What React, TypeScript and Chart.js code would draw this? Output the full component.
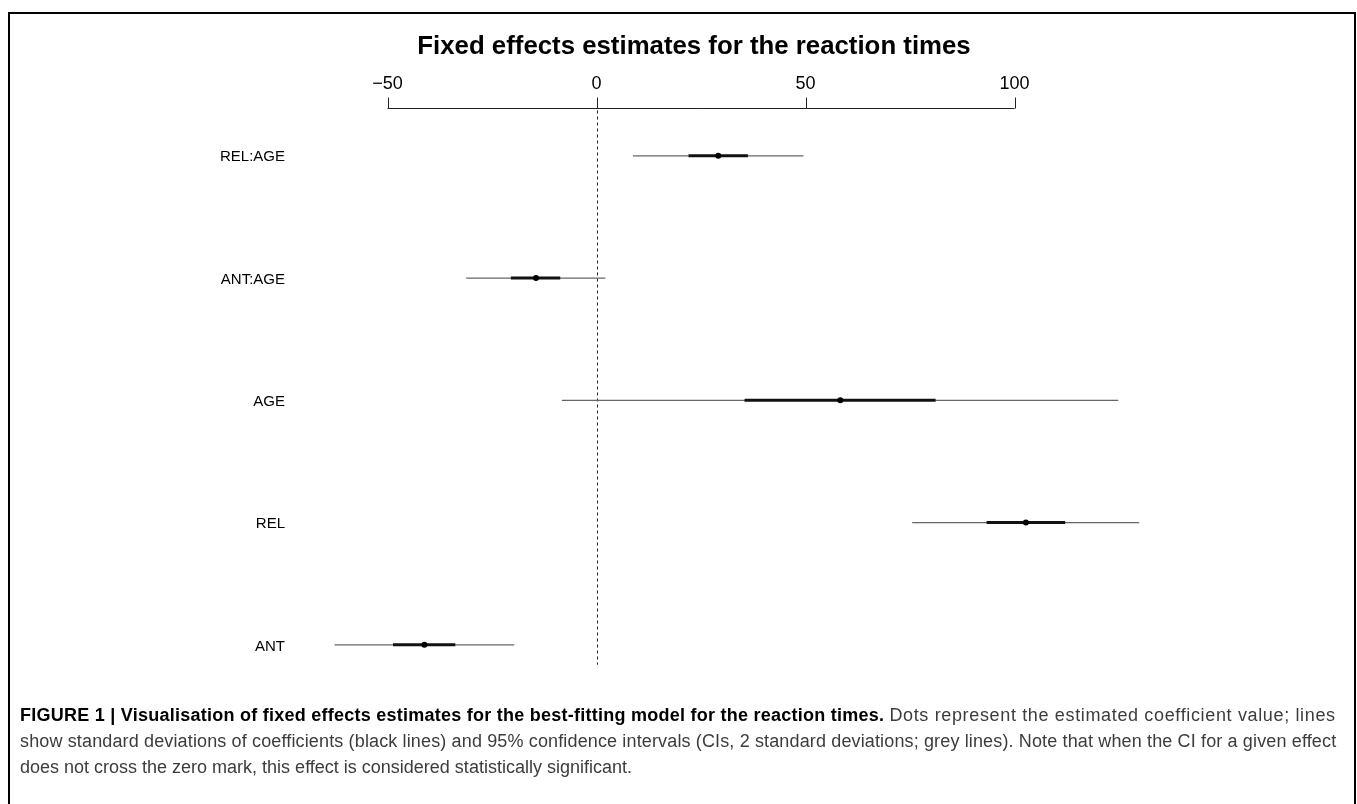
import React, { useEffect, useRef } from 'react';
import Chart from 'chart.js/auto';

const TITLE = 'Fixed effects estimates for the reaction times';
const EFFECTS = ['REL:AGE', 'ANT:AGE', 'AGE', 'REL', 'ANT'];
const ESTIMATE = [29.1, -14.5, 58.3, 102.7, -41.2];
const SD_LOW = [22.0, -20.5, 35.4, 93.3, -48.7];
const SD_HIGH = [36.2, -8.7, 81.1, 112.1, -33.8];
const CI_LOW = [8.7, -31.2, -8.3, 75.5, -62.7];
const CI_HIGH = [49.5, 2.1, 124.8, 129.8, -19.7];
const X_TICKS = [-50, 0, 50, 100];
const X_MIN = -70;
const X_MAX = 140;

const FONT = '"Liberation Sans", Arial, Helvetica, sans-serif';
const CANVAS_H = 734;

export default function App() {
  const ref = useRef<HTMLCanvasElement>(null);

  useEffect(() => {
    if (!ref.current) return;
    Chart.defaults.font.family = FONT;

    const axisPlugin = {
      id: 'rAxis',
      beforeDatasetsDraw(chart: any) {
        const { ctx, chartArea, scales } = chart;
        const x = scales.x;
        const y = scales.y;
        const axisY = Math.round(chartArea.top + 13) + 0.5;
        ctx.save();
        ctx.strokeStyle = '#222';
        ctx.lineWidth = 1;
        ctx.beginPath();
        ctx.moveTo(x.getPixelForValue(X_TICKS[0]), axisY);
        ctx.lineTo(x.getPixelForValue(X_TICKS[X_TICKS.length - 1]), axisY);
        for (const t of X_TICKS) {
          const px = Math.round(x.getPixelForValue(t)) + 0.5;
          ctx.moveTo(px, axisY);
          ctx.lineTo(px, axisY - 11);
        }
        ctx.stroke();
        const zx = Math.round(x.getPixelForValue(0)) + 0.5;
        const lastY = y.getPixelForValue(EFFECTS.length - 1);
        ctx.setLineDash([3, 3]);
        ctx.beginPath();
        ctx.moveTo(zx, axisY + 2);
        ctx.lineTo(zx, lastY + 20);
        ctx.stroke();
        ctx.restore();
      },
    };

    const chart = new Chart(ref.current, {
      type: 'bar',
      data: {
        labels: EFFECTS,
        datasets: [
          {
            label: 'CI',
            data: EFFECTS.map((_, i) => [CI_LOW[i], CI_HIGH[i]]),
            backgroundColor: '#666',
            barThickness: 1.3,
            grouped: false,
            inflateAmount: 0,
            borderWidth: 0,
            order: 3,
          } as any,
          {
            label: 'SD',
            data: EFFECTS.map((_, i) => [SD_LOW[i], SD_HIGH[i]]),
            backgroundColor: '#111',
            barThickness: 3,
            grouped: false,
            inflateAmount: 0,
            borderWidth: 0,
            order: 2,
          } as any,
          {
            type: 'scatter',
            label: 'Estimate',
            data: EFFECTS.map((e, i) => ({ x: ESTIMATE[i], y: e })),
            pointRadius: 3,
            pointBackgroundColor: '#000',
            pointBorderWidth: 0,
            order: 1,
          } as any,
        ],
      },
      options: {
        indexAxis: 'y',
        responsive: false,
        maintainAspectRatio: false,
        animation: false,
        layout: { padding: { left: 206.2, right: 175.2, top: 0, bottom: 0 } },
        plugins: {
          legend: { display: false },
          tooltip: { enabled: false },
          title: {
            display: true,
            text: TITLE,
            color: '#000',
            font: { size: 25.8, weight: 'bold', family: FONT, lineHeight: 1.2 },
            padding: { top: 31.5, bottom: 0 },
          },
        },
        scales: {
          x: {
            type: 'linear',
            position: 'top',
            min: X_MIN,
            max: X_MAX,
            afterBuildTicks: (s: any) => {
              s.ticks = X_TICKS.map((v) => ({ value: v }));
            },
            afterFit: (s: any) => {
              s.height = 32.25;
            },
            ticks: {
              callback: (v: any) => (v < 0 ? '\u2212' + Math.abs(v) : String(v)),
              font: { size: 18 },
              color: '#000',
              padding: 0,
              maxRotation: 0,
            },
            grid: { display: false, drawTicks: false },
            border: { display: false },
          },
          y: {
            type: 'category',
            offset: true,
            afterFit: (s: any) => {
              s.width = 97.8;
            },
            ticks: { font: { size: 15 }, color: '#000', padding: 19, labelOffset: 1.5 },
            grid: { display: false, drawTicks: false },
            border: { display: false },
          },
        },
      } as any,
      plugins: [axisPlugin],
    });
    return () => chart.destroy();
  }, []);

  return (
    <div>
      <div
        style={{
          position: 'absolute',
          left: 8,
          top: 12,
          width: 1348,
          height: 792,
          boxSizing: 'border-box',
          borderTop: '2px solid #000',
          borderLeft: '2px solid #000',
          borderRight: '2px solid #000',
        }}
      />
      <canvas
        ref={ref}
        width={1357}
        height={CANVAS_H}
        style={{ position: 'absolute', left: 0, top: 0, width: 1357, height: CANVAS_H }}
      />
      <div
        style={{
          position: 'absolute',
          left: 20,
          top: 702,
          fontFamily: FONT,
          fontSize: 18,
          lineHeight: '26px',
          color: '#3c3c3c',
          whiteSpace: 'nowrap',
        }}
      >
        <div>
          <b style={{ color: '#000', letterSpacing: '0.25px' }}>
            FIGURE 1 | Visualisation of fixed effects estimates for the best-fitting model for the reaction times.
          </b>{' '}
          <span style={{ letterSpacing: '0.65px' }}>Dots represent the estimated coefficient value; lines</span>
        </div>
        <div style={{ letterSpacing: '0.14px' }}>
          show standard deviations of coefficients (black lines) and 95% confidence intervals (CIs, 2 standard deviations; grey lines). Note that when the CI for a given effect
        </div>
        <div>does not cross the zero mark, this effect is considered statistically significant.</div>
      </div>
    </div>
  );
}
